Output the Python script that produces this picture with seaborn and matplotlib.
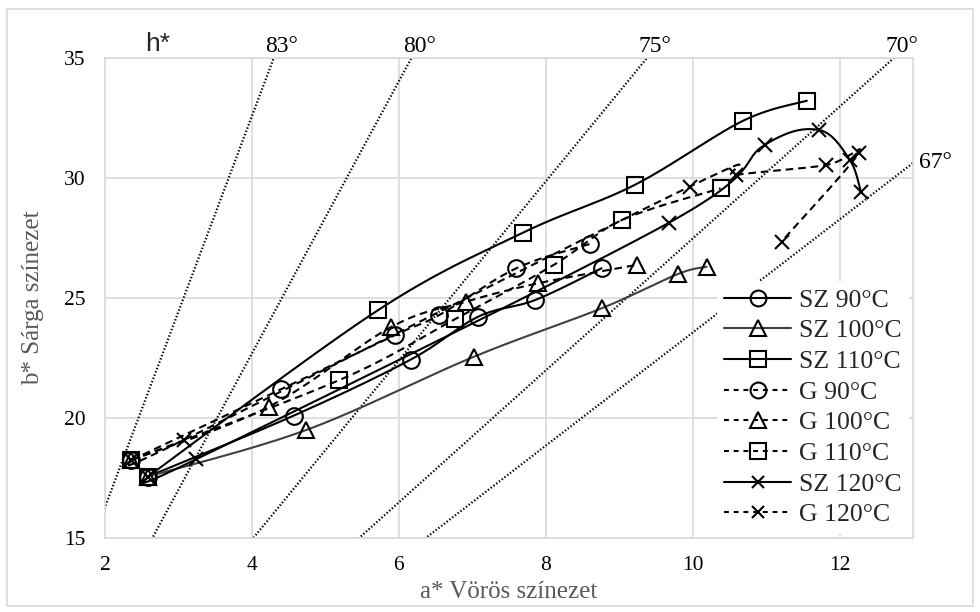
import numpy as np
import pandas as pd
import matplotlib
matplotlib.use("Agg")
import matplotlib.pyplot as plt
import seaborn as sns
from matplotlib.lines import Line2D
from matplotlib.patches import Rectangle

# ---------------- data ----------------
series_names = ["SZ 90°C", "SZ 100°C", "SZ 110°C", "G 90°C", "G 100°C",
                "G 110°C", "SZ 120°C", "G 120°C"]

sz90_a = [2.585, 4.57, 6.16, 7.08, 7.86, 8.76]
sz90_b = [17.56, 20.10, 22.43, 24.22, 24.92, 26.24]
sz100_a = [2.585, 4.74, 7.02, 8.76, 9.80, 10.19]
sz100_b = [17.56, 19.50, 22.55, 24.57, 26.00, 26.30]
sz110_a = [2.585, 5.72, 7.69, 9.21, 10.68, 11.555]
sz110_b = [17.56, 24.50, 27.72, 29.71, 32.375, 33.22]
g90_a = [2.36, 4.40, 5.95, 6.55, 7.60, 8.60]
g90_b = [18.25, 21.20, 23.46, 24.29, 26.24, 27.25]
g100_a = [2.36, 4.23, 5.90, 6.92, 7.89, 9.24]
g100_b = [18.25, 20.47, 23.80, 24.85, 25.61, 26.38]
g110_a = [2.36, 5.19, 6.76, 8.11, 9.04, 10.38]
g110_b = [18.25, 21.58, 24.11, 26.38, 28.25, 29.57]
sz120_a = [2.585, 3.24, 9.68, 10.98, 11.72, 12.14, 12.29]
sz120_b = [17.56, 18.28, 28.14, 31.375, 32.00, 30.75, 29.43]
g120_a = [2.36, 3.07, 9.96, 10.59, 11.82, 12.26, 11.21]
g120_b = [18.25, 19.08, 29.64, 30.125, 30.54, 31.03, 27.35]

hue_angles = [83, 80, 75, 70, 67]
x_ticks = [2, 4, 6, 8, 10, 12]
y_ticks = [15, 20, 25, 30, 35]

series_a = [sz90_a, sz100_a, sz110_a, g90_a, g100_a, g110_a, sz120_a, g120_a]
series_b = [sz90_b, sz100_b, sz110_b, g90_b, g100_b, g110_b, sz120_b, g120_b]
markers = ["o", "^", "s", "o", "^", "s", "x", "x"]
msizes = [12, 12, 11.5, 12, 12, 11.5, 9.5, 9.5]
styles = ["-", "-", "-", "--", "--", "--", "-", "--"]
colors = ["#000000", "#404040", "#000000", "#000000", "#000000", "#000000",
          "#000000", "#000000"]


def smooth(x, y, n=30):
    P = np.column_stack([x, y]).astype(float)
    out = [P[0]]
    for i in range(len(P) - 1):
        p0 = P[i - 1] if i > 0 else P[i]
        p1 = P[i]
        p2 = P[i + 1]
        p3 = P[i + 2] if i + 2 < len(P) else P[i + 1]
        c1 = p1 + (p2 - p0) / 6.0
        c2 = p2 - (p3 - p1) / 6.0
        t = np.linspace(0, 1, n)[1:, None]
        seg = ((1 - t) ** 3) * p1 + 3 * ((1 - t) ** 2) * t * c1 \
            + 3 * (1 - t) * t ** 2 * c2 + t ** 3 * p2
        out.extend(seg)
    return np.array(out)


# ---------------- style ----------------
sns.set_style("white")
serif = ["Liberation Serif", "DejaVu Serif"]
plt.rcParams["font.family"] = serif
plt.rcParams["lines.scale_dashes"] = False

fig = plt.figure(figsize=(9.8, 6.12), dpi=100)
ax = fig.add_axes([105 / 980, 1 - 538 / 612, 808 / 980, 480 / 612])

grid_c = "#d9d9d9"
ax.set_xlim(2, 13)
ax.set_ylim(15, 35)
ax.set_xticks(x_ticks)
ax.set_yticks(y_ticks)
ax.grid(True, color=grid_c, linewidth=1.2)
ax.set_axisbelow(True)
for s in ax.spines.values():
    s.set_color(grid_c)
    s.set_linewidth(1.2)
ax.tick_params(axis="both", which="both", direction="out", length=5,
               width=1.2, color=grid_c, labelsize=15.5, labelcolor="#000000")
ax.tick_params(axis="y", pad=9)
ax.tick_params(axis="x", pad=8)

# hue angle reference lines
a_line = np.linspace(0, 14, 200)
for h in hue_angles:
    tn = np.tan(np.radians(h))
    hdf = pd.DataFrame({"a": a_line, "b": a_line * tn})
    sns.lineplot(data=hdf, x="a", y="b", ax=ax, color="black",
                 linewidth=1.6, linestyle=(0, (1, 1.5)), sort=False,
                 estimator=None, zorder=2)
    if h == 67:
        ax.annotate(f"{h}°", xy=(13, 13 * tn), xycoords="data",
                    xytext=(6, 0), textcoords="offset pixels",
                    ha="left", va="center", fontsize=17, color="black",
                    annotation_clip=False)
    else:
        ax.annotate(f"{h}°", xy=(35 / tn, 35), xycoords="data",
                    xytext=(8, 12), textcoords="offset pixels",
                    ha="center", va="center", fontsize=17, color="black",
                    annotation_clip=False)

ax.text(158 / 980, 1 - 44 / 612, "h*", transform=fig.transFigure,
        ha="center", va="center", fontsize=19,
        family=["Liberation Sans", "DejaVu Sans"])

# data series
handles = []
for name, xa, yb, mk, ms, ls, col in zip(series_names, series_a, series_b,
                                          markers, msizes, styles, colors):
    sm = smooth(xa, yb)
    sdf = pd.DataFrame({"a": sm[:, 0], "b": sm[:, 1]})
    dash = (0, (5.5, 3.5)) if ls == "--" else "-"
    sns.lineplot(data=sdf, x="a", y="b", ax=ax, color=col, linewidth=1.5,
                 linestyle=dash, sort=False, estimator=None, zorder=3)
    ax.plot(xa, yb, linestyle="none", marker=mk, markersize=ms,
            markerfacecolor="none", markeredgecolor="black",
            markeredgewidth=1.5, zorder=4)
    handles.append(Line2D([0], [0], color=col, linewidth=1.5,
                          linestyle=(0, (3.5, 3.5)) if ls == "--" else "-",
                          marker=mk, markersize=ms * 0.95,
                          markerfacecolor="none", markeredgecolor="black",
                          markeredgewidth=1.5))

ax.set_xlabel("a* Vörös színezet", fontsize=18, color="#595959", labelpad=4)
ax.set_ylabel("b* Sárga színezet", fontsize=18, color="#595959", labelpad=14)

leg = ax.legend(handles, series_names, loc="lower right",
                bbox_to_anchor=(1, 0), borderaxespad=0.15, frameon=True,
                facecolor="white", edgecolor="none", framealpha=1,
                fontsize=18.5, handlelength=2.6, handletextpad=0.3,
                labelspacing=0.3, borderpad=0.3)
leg.set_zorder(10)

fig.add_artist(Rectangle((7 / 980, 6 / 612), 966 / 980, 597 / 612,
                         transform=fig.transFigure, fill=False,
                         edgecolor=grid_c, linewidth=1.2))

fig.savefig("out.png", dpi=100)
